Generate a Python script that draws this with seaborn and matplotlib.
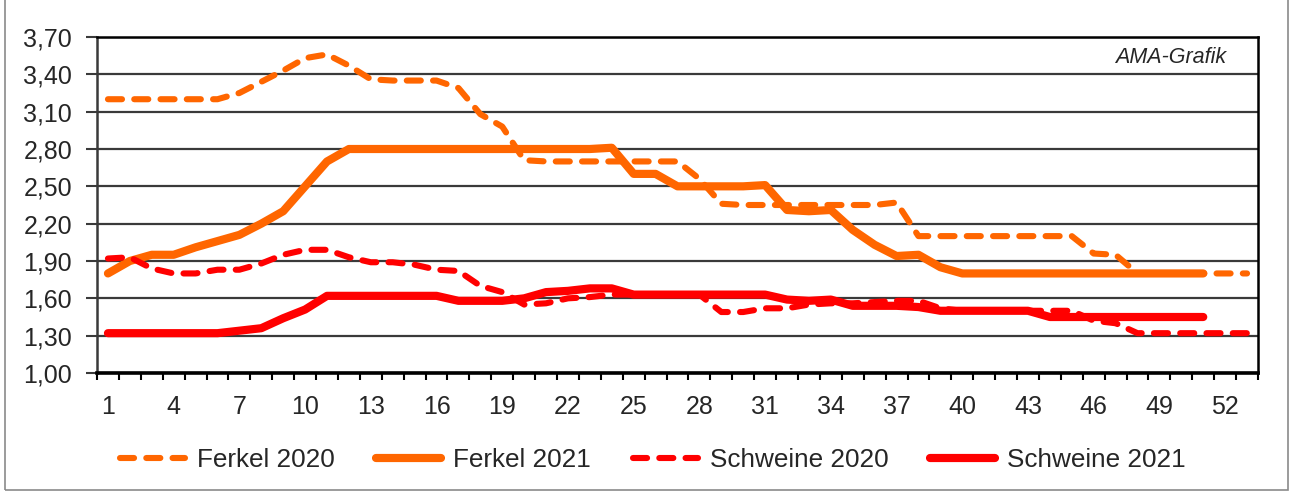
import matplotlib
matplotlib.use("Agg")
import matplotlib.pyplot as plt
import seaborn as sns
from matplotlib.patches import Rectangle
from matplotlib.ticker import FixedLocator

weeks = list(range(1, 54))

ferkel_2020 = [3.20, 3.20, 3.20, 3.20, 3.20, 3.20, 3.25, 3.34, 3.43, 3.53,
               3.56, 3.47, 3.36, 3.35, 3.35, 3.35, 3.29, 3.08, 2.98, 2.71,
               2.70, 2.70, 2.70, 2.70, 2.70, 2.70, 2.70, 2.56, 2.36, 2.35,
               2.35, 2.35, 2.35, 2.35, 2.35, 2.35, 2.37, 2.10, 2.10, 2.10,
               2.10, 2.10, 2.10, 2.10, 2.10, 1.96, 1.95, 1.80, 1.80, 1.80,
               1.80, 1.80, 1.80]
ferkel_2021 = [1.80, 1.90, 1.95, 1.95, 2.01, 2.06, 2.11, 2.20, 2.30, 2.50,
               2.70, 2.80, 2.80, 2.80, 2.80, 2.80, 2.80, 2.80, 2.80, 2.80,
               2.80, 2.80, 2.80, 2.81, 2.60, 2.60, 2.50, 2.50, 2.50, 2.50,
               2.51, 2.31, 2.30, 2.31, 2.15, 2.03, 1.94, 1.95, 1.85, 1.80,
               1.80, 1.80, 1.80, 1.80, 1.80, 1.80, 1.80, 1.80, 1.80, 1.80,
               1.80]
schweine_2020 = [1.92, 1.93, 1.84, 1.80, 1.80, 1.83, 1.83, 1.88, 1.95, 1.99,
                 1.99, 1.93, 1.89, 1.89, 1.87, 1.83, 1.82, 1.70, 1.65, 1.55,
                 1.56, 1.60, 1.61, 1.63, 1.63, 1.63, 1.63, 1.63, 1.49, 1.49,
                 1.52, 1.52, 1.55, 1.56, 1.56, 1.57, 1.58, 1.58, 1.52, 1.50,
                 1.50, 1.50, 1.50, 1.50, 1.50, 1.42, 1.40, 1.32, 1.32, 1.32,
                 1.32, 1.32, 1.32]
schweine_2021 = [1.32, 1.32, 1.32, 1.32, 1.32, 1.32, 1.34, 1.36, 1.44, 1.51,
                 1.62, 1.62, 1.62, 1.62, 1.62, 1.62, 1.58, 1.58, 1.58, 1.60,
                 1.65, 1.66, 1.68, 1.68, 1.63, 1.63, 1.63, 1.63, 1.63, 1.63,
                 1.63, 1.59, 1.58, 1.59, 1.54, 1.54, 1.54, 1.53, 1.50, 1.50,
                 1.50, 1.50, 1.50, 1.45, 1.45, 1.45, 1.45, 1.45, 1.45, 1.45,
                 1.45]

y_ticks = [1.00, 1.30, 1.60, 1.90, 2.20, 2.50, 2.80, 3.10, 3.40, 3.70]
x_labels = list(range(1, 54, 3))

sns.set_style("white")
plt.rcParams['font.family'] = ['Liberation Sans', 'DejaVu Sans']

fig = plt.figure(figsize=(12.9, 4.92), dpi=100)
ax = fig.add_axes([97 / 1290, 1 - 373 / 492, (1258 - 97) / 1290, (373 - 37) / 492])

orange = '#FF6600'
red = '#FF0000'
dash = (0, (2.3, 2.0))
lines_cfg = [
    ('Ferkel 2020', ferkel_2020, orange, dash, 4.4),
    ('Ferkel 2021', ferkel_2021, orange, '-', 5.9),
    ('Schweine 2020', schweine_2020, red, dash, 4.4),
    ('Schweine 2021', schweine_2021, red, '-', 5.9),
]
for name, vals, col, ls, lw in lines_cfg:
    sns.lineplot(x=weeks[:len(vals)], y=vals, ax=ax, color=col,
                 linestyle=ls, lw=lw, label=name)
    ln = ax.lines[-1]
    ln.set_dash_capstyle('round')
    ln.set_solid_capstyle('round')
    ln.set_solid_joinstyle('round')
    ln.set_dash_joinstyle('round')

handles, labels = ax.get_legend_handles_labels()
ax.get_legend().remove()

# y axis
ax.set_ylim(1.0, 3.7)
ax.set_yticks(y_ticks)
ax.set_yticklabels([f"{v:.2f}".replace('.', ',') for v in y_ticks])
ax.yaxis.grid(True, color='#3a3a3a', lw=1.6)
ax.set_axisbelow(True)
ax.tick_params(axis='y', length=8, width=1.5, color='#3a3a3a', pad=10,
               labelsize=18, left=True)

# x axis: categories with ticks between them
ax.set_xlim(0.5, 53.5)
ax.set_xticks(x_labels)
ax.set_xticklabels([str(v) for v in x_labels])
ax.xaxis.set_minor_locator(FixedLocator([w - 0.5 for w in weeks] + [53.5]))
ax.tick_params(axis='x', which='major', length=0, pad=15.5, labelsize=18)
ax.tick_params(axis='x', which='minor', length=5, width=1.5, color='black',
               bottom=True, direction='out')

for side in ['top', 'right']:
    ax.spines[side].set_color('black')
    ax.spines[side].set_linewidth(1.8)
ax.spines['left'].set_color('#3a3a3a')
ax.spines['left'].set_linewidth(1.8)
ax.spines['bottom'].set_color('black')
ax.spines['bottom'].set_linewidth(2.6)

ax.set_xlabel('')
ax.set_ylabel('')

ax.text(0.973, 0.94, 'AMA-Grafik', transform=ax.transAxes, ha='right',
        va='center', fontsize=15.5, style='italic')

fig.legend(handles, labels, loc='center', bbox_to_anchor=(0.506, 1 - 460 / 492),
           ncol=4, frameon=False, fontsize=18.8, handlelength=2.5,
           columnspacing=1.6, handletextpad=0.45)

fig.patches.append(Rectangle((5 / 1290, 2 / 492), (1288 - 5) / 1290, 1.2,
                             transform=fig.transFigure, fill=False,
                             edgecolor='#8a8a8a', lw=1.2))

fig.savefig('out.png', dpi=100)
